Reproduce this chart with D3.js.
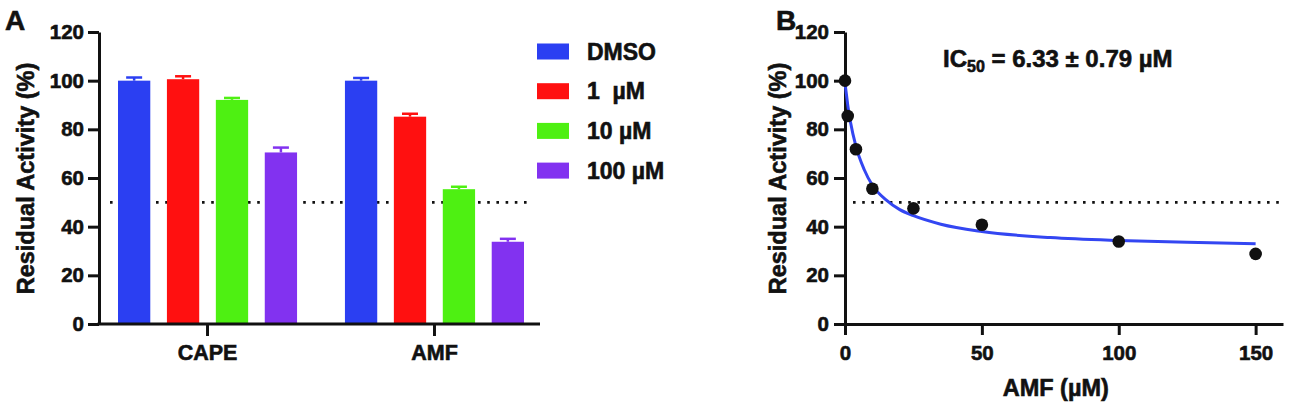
<!DOCTYPE html>
<html>
<head>
<meta charset="utf-8">
<script src="https://cdn.jsdelivr.net/npm/d3@7"></script>
<style>
  body { margin: 0; background: #fff; }
  text { font-family: "Liberation Sans", Arial, sans-serif; font-weight: bold; fill: #111; stroke: #111; stroke-width: 0.6px; }
</style>
</head>
<body>
<script>
// panel A data
const groups = ["CAPE", "AMF"];
const series = ["DMSO", "1  µM", "10 µM", "100 µM"];
const seriesColors = ["#2b3ff2", "#ff1010", "#4ef012", "#8232f0"];
const capeValues = [100, 100.6, 92.1, 70.5];
const capeErrors = [1.3, 1.2, 0.8, 2.0];
const amfValues = [100, 85.2, 55.4, 33.8];
const amfErrors = [1.1, 1.2, 1.0, 1.2];
const yTicks = [0, 20, 40, 60, 80, 100, 120];

// panel B data
const doseX = [0, 1, 4, 10, 25, 50, 100, 150];
const doseY = [100, 85.5, 71.8, 55.6, 47.5, 40.8, 33.9, 28.8];
const fitX = [0, 0.5, 1, 2, 4, 7, 10, 15, 20, 25, 35, 50, 75, 100, 125, 150];
const fitY = [99, 94.5, 90, 83, 73, 63.5, 57, 51, 47, 44.5, 41, 38, 35.5, 34.3, 33.6, 33];
const xTicksB = [0, 50, 100, 150];

const svg = d3.select("body").append("svg")
  .attr("width", 1292).attr("height", 407);

const y = d3.scaleLinear().domain([0, 120]).range([324, 32]);

// ---------- panel A ----------
const axA = 99, endA = 540;
const x0 = d3.scaleBand().domain(groups).range([118, 524]).paddingInner(0.211);
const x1 = d3.scaleBand().domain(series).range([0, x0.bandwidth()]).paddingInner(0.34);

const barData = [];
groups.forEach((g, gi) => {
  const vals = gi === 0 ? capeValues : amfValues;
  const errs = gi === 0 ? capeErrors : amfErrors;
  series.forEach((s, si) => barData.push({ g, s, v: vals[si], e: errs[si], c: seriesColors[si] }));
});

// threshold line (behind bars)
svg.append("line")
  .attr("x1", 110).attr("x2", 533)
  .attr("y1", y(50)).attr("y2", y(50))
  .attr("stroke", "#111").attr("stroke-width", 2.6)
  .attr("stroke-dasharray", "2.6 6.6");

const bars = svg.append("g");
bars.selectAll("rect").data(barData).enter().append("rect")
  .attr("x", d => x0(d.g) + x1(d.s))
  .attr("y", d => y(d.v))
  .attr("width", x1.bandwidth())
  .attr("height", d => y(0) - y(d.v))
  .attr("fill", d => d.c);

const err = svg.append("g");
barData.forEach(d => {
  const cx = x0(d.g) + x1(d.s) + x1.bandwidth() / 2;
  err.append("line").attr("x1", cx).attr("x2", cx)
    .attr("y1", y(d.v)).attr("y2", y(d.v + d.e))
    .attr("stroke", d.c).attr("stroke-width", 2.5);
  err.append("line").attr("x1", cx - 8).attr("x2", cx + 8)
    .attr("y1", y(d.v + d.e)).attr("y2", y(d.v + d.e))
    .attr("stroke", d.c).attr("stroke-width", 2.5);
});

const yAxisA = svg.append("g")
  .attr("transform", "translate(" + axA + ",0)")
  .call(d3.axisLeft(y).tickValues(yTicks).tickSize(11).tickPadding(4).tickSizeOuter(0));

svg.append("line").attr("x1", axA - 1.5).attr("x2", endA)
  .attr("y1", y(0)).attr("y2", y(0))
  .attr("stroke", "#111").attr("stroke-width", 3);

const xAxisA = svg.append("g")
  .attr("transform", "translate(0," + y(0) + ")")
  .call(d3.axisBottom(x0).tickSize(12).tickPadding(9).tickSizeOuter(0));
xAxisA.select(".domain").remove();

svg.append("text").attr("x", 5).attr("y", 30)
  .style("font-size", "28px").text("A");

svg.append("text")
  .attr("transform", "translate(33.5,178.5) rotate(-90)")
  .attr("text-anchor", "middle")
  .style("font-size", "23.5px")
  .text("Residual Activity (%)");

// legend
const legend = svg.append("g").attr("transform", "translate(537,43.5)");
series.forEach((s, i) => {
  const row = legend.append("g").attr("transform", "translate(0," + i * 39.7 + ")");
  row.append("rect").attr("width", 32).attr("height", 16).attr("fill", seriesColors[i]);
  row.append("text").attr("x", 50).attr("y", 8).attr("dy", "0.36em")
    .style("font-size", "23px").style("white-space", "pre")
    .attr("xml:space", "preserve").text(s);
});

// ---------- panel B ----------
const xB = d3.scaleLinear().domain([0, 160]).range([845, 1283]);

svg.append("line")
  .attr("x1", 853).attr("x2", 1284)
  .attr("y1", y(50)).attr("y2", y(50))
  .attr("stroke", "#111").attr("stroke-width", 2.6)
  .attr("stroke-dasharray", "2.6 6.6");

const yAxisB = svg.append("g")
  .attr("transform", "translate(" + xB(0) + ",0)")
  .call(d3.axisLeft(y).tickValues(yTicks).tickSize(11).tickPadding(5).tickSizeOuter(0));

const xAxisB = svg.append("g")
  .attr("transform", "translate(0," + y(0) + ")")
  .call(d3.axisBottom(xB).tickValues(xTicksB).tickSize(11).tickPadding(10).tickSizeOuter(0));

[yAxisA, yAxisB, xAxisA, xAxisB].forEach(a => {
  a.selectAll(".domain").attr("stroke", "#111").attr("stroke-width", 3);
  a.selectAll(".tick line").attr("stroke", "#111").attr("stroke-width", 3);
  a.selectAll("text").style("font-family", "'Liberation Sans', Arial, sans-serif")
    .style("font-weight", "bold").attr("fill", "#111");
});
[yAxisA, yAxisB, xAxisB].forEach(a => a.selectAll("text").style("font-size", "20.5px"));
xAxisA.selectAll("text").style("font-size", "21.5px");

const line = d3.line().x(d => xB(d[0])).y(d => y(d[1])).curve(d3.curveMonotoneX);
svg.append("path")
  .datum(fitX.map((v, i) => [v, fitY[i]]))
  .attr("d", line)
  .attr("fill", "none").attr("stroke", "#3346f2").attr("stroke-width", 3);

svg.append("g").selectAll("circle")
  .data(doseX.map((v, i) => [v, doseY[i]]))
  .enter().append("circle")
  .attr("cx", d => xB(d[0])).attr("cy", d => y(d[1]))
  .attr("r", 6.3).attr("fill", "#111");

svg.append("text").attr("x", 776).attr("y", 30)
  .style("font-size", "28px").text("B");

svg.append("text")
  .attr("transform", "translate(785.5,178.5) rotate(-90)")
  .attr("text-anchor", "middle")
  .style("font-size", "23.5px")
  .text("Residual Activity (%)");

svg.append("text")
  .attr("x", xB(77)).attr("y", 396)
  .attr("text-anchor", "middle")
  .style("font-size", "23.5px")
  .text("AMF (µM)");

const ic = svg.append("text").attr("x", 943).attr("y", 67).style("font-size", "24px");
ic.append("tspan").text("IC");
ic.append("tspan").attr("dy", 5).style("font-size", "16px").text("50");
ic.append("tspan").attr("dy", -5).text(" = 6.33 ± 0.79 µM");
</script>
</body>
</html>
